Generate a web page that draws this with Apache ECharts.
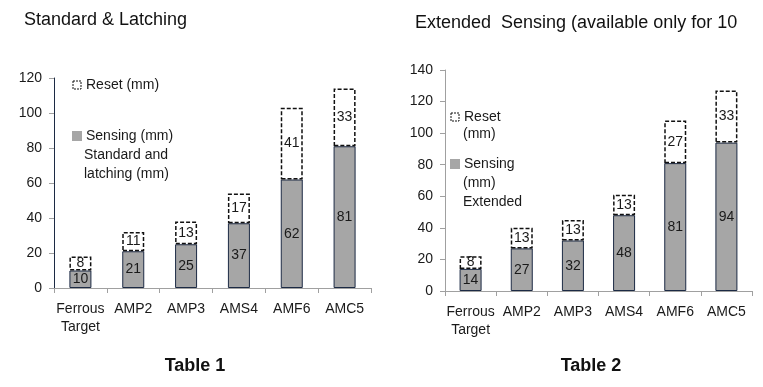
<!DOCTYPE html>
<html><head><meta charset="utf-8">
<script src="https://cdn.jsdelivr.net/npm/echarts@6/dist/echarts.min.js"></script>
<style>html,body{margin:0;padding:0;background:#fff}#c{width:763px;height:387px}</style>
</head><body><div id="c"></div>
<script>
const categories = ['Ferrous\nTarget', 'AMP2', 'AMP3', 'AMS4', 'AMF6', 'AMC5'];
const sensing1 = [10, 21, 25, 37, 62, 81];
const reset1 = [8, 11, 13, 17, 41, 33];
const sensing2 = [14, 27, 32, 48, 81, 94];
const reset2 = [8, 13, 13, 13, 27, 33];
const yTicks1 = { min: 0, max: 120, interval: 20 };
const yTicks2 = { min: 0, max: 140, interval: 20 };

const FONT = 'Liberation Sans';
const gray = '#a6a6a6';
const navy = '#1c2a44';
const lblStyle = { show: true, position: 'inside', color: '#1a1a1a', fontSize: 14, fontFamily: FONT };

function xAxis(gi) {
  return {
    type: 'category', gridIndex: gi, data: categories,
    axisLine: { lineStyle: { color: '#a0a0a0' } },
    axisTick: { show: true, length: 5, lineStyle: { color: '#a0a0a0' } },
    axisLabel: { interval: 0, color: '#1a1a1a', fontSize: 14, fontFamily: FONT, margin: 12, lineHeight: 18 }
  };
}
function yAxis(gi, t, lineColor) {
  return {
    type: 'value', gridIndex: gi, min: t.min, max: t.max, interval: t.interval,
    axisLine: { show: true, lineStyle: { color: lineColor } },
    axisTick: { show: true, length: 5, lineStyle: { color: '#a0a0a0' } },
    splitLine: { show: false },
    axisLabel: { color: '#1a1a1a', fontSize: 14, fontFamily: FONT, margin: 12 }
  };
}
function sens(name, data, i) {
  return {
    name: name, type: 'bar', stack: 's' + i, xAxisIndex: i, yAxisIndex: i, data: data,
    barWidth: 22,
    itemStyle: { color: gray, borderColor: navy, borderWidth: 1 },
    label: lblStyle
  };
}
function reset(name, data, i) {
  return {
    name: name, type: 'bar', stack: 's' + i, xAxisIndex: i, yAxisIndex: i, data: data,
    barWidth: 22,
    itemStyle: { color: '#ffffff', borderColor: '#111', borderWidth: 1.5, borderType: [4, 2] },
    label: lblStyle
  };
}
const legendText = { color: '#1a1a1a', fontSize: 14, fontFamily: FONT };
const chart = echarts.init(document.getElementById('c'));
chart.setOption({
  animation: false,
  grid: [
    { left: 54, right: 392, top: 78, bottom: 99 },
    { left: 445, right: 11, top: 70, bottom: 96 }
  ],
  xAxis: [xAxis(0), xAxis(1)],
  yAxis: [yAxis(0, yTicks1, navy), yAxis(1, yTicks2, '#a0a0a0')],
  legend: [
    { left: 67, top: 73, orient: 'vertical', icon: 'rect', itemWidth: 8, itemHeight: 8, itemGap: 37,
      textStyle: legendText, selectedMode: false,
      data: [
        { name: 'Reset (mm)', itemStyle: { color: '#fff', borderColor: '#111', borderWidth: 1, borderType: [2, 1] } },
        { name: 'Sensing (mm)', itemStyle: { color: gray, borderColor: gray } }
      ] },
    { left: 445, top: 105, orient: 'vertical', icon: 'rect', itemWidth: 8, itemHeight: 8, itemGap: 33,
      textStyle: legendText, selectedMode: false,
      data: [
        { name: 'Reset', itemStyle: { color: '#fff', borderColor: '#111', borderWidth: 1, borderType: [2, 1] } },
        { name: 'Sensing', itemStyle: { color: gray, borderColor: gray } }
      ] }
  ],
  title: [
    { text: 'Standard & Latching', left: 24, top: 11, padding: 0, textStyle: { fontFamily: FONT, fontSize: 18, fontWeight: 'normal', color: '#111' } },
    { text: 'Extended  Sensing (available only for 10', left: 415, top: 14, padding: 0, textStyle: { fontFamily: FONT, fontSize: 18, fontWeight: 'normal', color: '#111' } },
    { text: 'Table 1', left: 195, top: 357, padding: 0, textAlign: 'center', textStyle: { fontFamily: FONT, fontSize: 18, fontWeight: 'bold', color: '#111' } },
    { text: 'Table 2', left: 591, top: 357, padding: 0, textAlign: 'center', textStyle: { fontFamily: FONT, fontSize: 18, fontWeight: 'bold', color: '#111' } }
  ],
  graphic: [
    { type: 'text', left: 84, top: 146, style: { text: 'Standard and\nlatching (mm)', fill: '#1a1a1a', font: '14px "Liberation Sans"', lineHeight: 19 } },
    { type: 'text', left: 463, top: 127, style: { text: '(mm)', fill: '#1a1a1a', font: '14px "Liberation Sans"' } },
    { type: 'text', left: 463, top: 174, style: { text: '(mm)\nExtended', fill: '#1a1a1a', font: '14px "Liberation Sans"', lineHeight: 19 } }
  ],
  series: [
    sens('Sensing (mm)', sensing1, 0),
    reset('Reset (mm)', reset1, 0),
    sens('Sensing', sensing2, 1),
    reset('Reset', reset2, 1)
  ]
});
</script></body></html>
